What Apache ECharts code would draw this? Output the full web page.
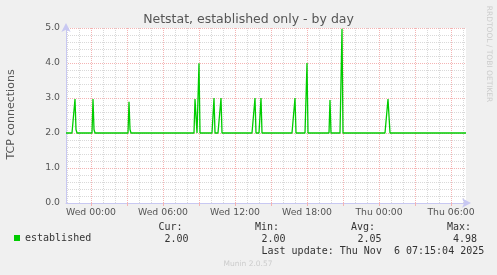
<!DOCTYPE html>
<html><head><meta charset="utf-8">
<script src="https://cdn.jsdelivr.net/npm/echarts@6/dist/echarts.min.js"></script>
<style>html,body{margin:0;padding:0;background:#f0f0f0}#c{width:497px;height:275px}</style>
</head><body><div id="c"></div>
<script>
// ---- data ----
const startTime = 'Tue 21:55';
const endTime = 'Thu 07:15';
const stepMinutes = 5;
const baselineValue = 2.0;
const spikeTimes = ['Tue 22:40','Tue 22:45','Wed 00:10','Wed 00:15','Wed 03:10','Wed 03:15','Wed 08:40','Wed 08:45','Wed 09:00','Wed 10:15','Wed 10:50','Wed 13:40','Wed 14:10','Wed 17:00','Wed 18:00','Wed 19:55','Wed 20:55','Thu 00:45','Thu 00:50'];
const spikeValues = [2.97, 2.10, 2.97, 2.10, 2.89, 2.10, 2.97, 3.00, 3.99, 3.00, 3.00, 3.00, 3.00, 3.00, 4.00, 2.94, 4.98, 2.97, 3.00];
const yTicks = [0, 1, 2, 3, 4, 5];
const statLabels = ['Cur:', 'Min:', 'Avg:', 'Max:'];
const statValues = ['2.00', '2.00', '2.05', '4.98'];
const seriesName = 'established';
const lastUpdate = 'Last update: Thu Nov  6 07:15:04 2025';

// ---- helpers ----
const days = ['Tue', 'Wed', 'Thu'];
function toMin(s) {
  const [d, hm] = s.split(' ');
  const [h, m] = hm.split(':').map(Number);
  return days.indexOf(d) * 1440 + h * 60 + m;
}
function toLabel(min) {
  const d = days[Math.floor(min / 1440)];
  const r = min % 1440;
  const h = String(Math.floor(r / 60)).padStart(2, '0');
  const m = String(r % 60).padStart(2, '0');
  return d + ' ' + h + ':' + m;
}
const t0 = toMin(startTime), t1 = toMin(endTime);
const categories = [];
for (let t = t0; t <= t1; t += stepMinutes) categories.push(toLabel(t));
const values = categories.map(() => baselineValue);
spikeTimes.forEach((t, i) => { values[(toMin(t) - t0) / stepMinutes] = spikeValues[i]; });

const every = (mins) => (idx, v) => toMin(v) % mins === 0;
const hourNotMajor = (idx, v) => { const m = toMin(v); return m % 60 === 0 && m % 180 !== 0; };

const GRAY = '#d9d9d9', RED = '#f4b4b4', AXIS = '#c8c8f2', TXT = '#555555', MONO = '#333333';
const monoFont = '10px "DejaVu Sans Mono"';

const graphics = [
  { type: 'text', x: 248.5, y: 19.5, style: { text: 'Netstat, established only - by day', font: '12.5px "DejaVu Sans"', fill: TXT, align: 'center', verticalAlign: 'middle' } },
  { type: 'text', x: 11.5, y: 114.5, rotation: Math.PI / 2, style: { text: 'TCP connections', font: '11px "DejaVu Sans"', fill: TXT, align: 'center', verticalAlign: 'middle' } },
  { type: 'text', x: 488.5, y: 54, rotation: -Math.PI / 2, style: { text: 'RRDTOOL / TOBI OETIKER', font: '7.5px "DejaVu Sans"', fill: '#cccccc', align: 'center', verticalAlign: 'middle' } },
  { type: 'text', x: 248, y: 264, style: { text: 'Munin 2.0.57', font: '7.5px "DejaVu Sans"', fill: '#cccccc', align: 'center', verticalAlign: 'middle' } },
  { type: 'text', x: 261.5, y: 251, style: { text: lastUpdate, font: monoFont, fill: MONO, align: 'left', verticalAlign: 'middle' } }
];
const labelX = [158.5, 255, 351, 447];
const valueX = [164.5, 261.5, 357.5, 453];
statLabels.forEach((s, i) => {
  graphics.push({ type: 'text', x: labelX[i], y: 227.7, style: { text: s, font: monoFont, fill: MONO, align: 'left', verticalAlign: 'middle' } });
  graphics.push({ type: 'text', x: valueX[i], y: 239.3, style: { text: statValues[i], font: monoFont, fill: MONO, align: 'left', verticalAlign: 'middle' } });
});

const chart = echarts.init(document.getElementById('c'), null, { renderer: 'canvas' });
chart.setOption({
  animation: false,
  backgroundColor: '#f0f0f0',
  grid: { left: 66, top: 28, width: 400, height: 175, show: true, backgroundColor: '#ffffff', borderWidth: 0 },
  legend: {
    data: [seriesName], left: 10, top: 233, icon: 'rect', itemWidth: 6, itemHeight: 6, padding: [0, 0, 0, 4],
    textStyle: { fontFamily: 'DejaVu Sans Mono', fontSize: 10, color: MONO }
  },
  xAxis: [
    {
      type: 'category', data: categories, boundaryGap: false, position: 'bottom',
      axisLine: { show: true, lineStyle: { color: AXIS, width: 1 }, symbol: ['none', 'arrow'], symbolSize: [7, 9], symbolOffset: [0, 5] },
      axisTick: { show: false },
      axisLabel: { interval: every(360), color: TXT, fontFamily: 'DejaVu Sans', fontSize: 9.3, margin: 5 },
      splitLine: { show: true, interval: hourNotMajor, lineStyle: { color: GRAY, width: 1, type: [1, 1] } }
    },
    {
      type: 'category', data: categories, boundaryGap: false, position: 'bottom',
      axisLine: { show: false },
      axisTick: { show: true, interval: every(180), length: 3, lineStyle: { color: RED } },
      axisLabel: { show: false },
      splitLine: { show: true, interval: every(180), lineStyle: { color: RED, width: 1, type: [1, 1] } }
    }
  ],
  yAxis: {
    type: 'value', min: yTicks[0], max: yTicks[yTicks.length - 1], interval: 1,
    axisLine: { show: true, lineStyle: { color: AXIS, width: 1 }, symbol: ['none', 'arrow'], symbolSize: [7, 9], symbolOffset: [0, 5] },
    axisTick: { show: false },
    axisLabel: { formatter: v => v.toFixed(1), color: TXT, fontFamily: 'DejaVu Sans', fontSize: 9.3, margin: 6 },
    splitLine: { show: true, lineStyle: { color: RED, width: 1, type: [1, 1] } },
    minorTick: { show: false, splitNumber: 5 },
    minorSplitLine: { show: true, lineStyle: { color: GRAY, width: 1, type: [1, 1] } }
  },
  series: [{
    name: seriesName, type: 'line', xAxisIndex: 0, yAxisIndex: 0, data: values,
    symbol: 'none', color: '#00cc00', lineStyle: { color: '#00cc00', width: 1.3 }
  }],
  graphic: graphics
});
</script></body></html>
